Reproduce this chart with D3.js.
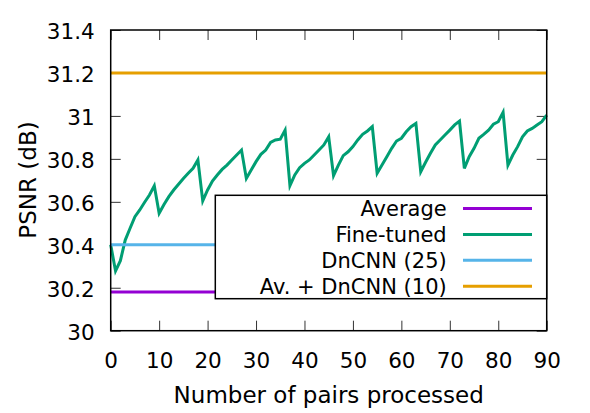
<!DOCTYPE html>
<html lang="en">
<head>
<meta charset="UTF-8">
<title>PSNR vs pairs processed</title>
<script src="https://d3js.org/d3.v7.min.js"></script>
<style>
  body { margin: 0; background: #fff; }
  text { font-family: "DejaVu Sans", sans-serif; fill: #000; }
</style>
</head>
<body>
<svg id="chart"></svg>
<script>
// Werte
var pairs = d3.range(0, 91);
var fineTuned = [
  30.40, 30.278, 30.326, 30.422, 30.477, 30.531, 30.562, 30.598, 30.632, 30.675,
  30.547, 30.588, 30.624, 30.655, 30.682, 30.709, 30.733, 30.756, 30.795, 30.604,
  30.655, 30.697, 30.725, 30.751, 30.771, 30.795, 30.818, 30.841, 30.709, 30.748,
  30.787, 30.821, 30.841, 30.877, 30.888, 30.892, 30.934, 30.675, 30.725, 30.759,
  30.779, 30.795, 30.818, 30.841, 30.865, 30.903, 30.722, 30.771, 30.815, 30.833,
  30.857, 30.888, 30.914, 30.930, 30.950, 30.733, 30.771, 30.810, 30.849, 30.883,
  30.896, 30.926, 30.950, 30.965, 30.740, 30.784, 30.826, 30.865, 30.888, 30.911,
  30.934, 30.958, 30.976, 30.756, 30.810, 30.849, 30.896, 30.914, 30.934, 30.961,
  30.973, 31.017, 30.771, 30.818, 30.857, 30.903, 30.930, 30.942, 30.958, 30.973,
  31.004
];
var average = 30.18;
var dncnn25 = 30.40;
var avDncnn10 = 31.20;

var seriesNames = ["Average", "Fine-tuned", "DnCNN (25)", "Av. + DnCNN (10)"];
var seriesColors = ["#9400d3", "#009e73", "#56b4e9", "#e69f00"];
var xTicks = [0, 10, 20, 30, 40, 50, 60, 70, 80, 90];
var yTicks = [30, 30.2, 30.4, 30.6, 30.8, 31, 31.2, 31.4];

var width = 590, height = 413;
var margin = {left: 110.7, top: 30, right: 43.3, bottom: 82.3};
var innerW = width - margin.left - margin.right;
var innerH = height - margin.top - margin.bottom;

var svg = d3.select("#chart").attr("width", width).attr("height", height);
var g = svg.append("g").attr("transform", "translate(" + margin.left + "," + margin.top + ")");

var x = d3.scaleLinear().domain([0, 90]).range([0, innerW]);
var y = d3.scaleLinear().domain([30, 31.4]).range([innerH, 0]);

// Achsen mit Ticks auf allen vier Seiten (gnuplot-Stil)
var tickLen = 10;
var axB = g.append("g").attr("transform", "translate(0," + innerH + ")")
  .call(d3.axisBottom(x).tickValues(xTicks).tickSizeInner(-tickLen).tickSizeOuter(0).tickPadding(22).tickFormat(d3.format("d")));
var axT = g.append("g")
  .call(d3.axisTop(x).tickValues(xTicks).tickSizeInner(-tickLen).tickSizeOuter(0).tickFormat(""));
var axL = g.append("g")
  .call(d3.axisLeft(y).tickValues(yTicks).tickSizeInner(-tickLen).tickSizeOuter(0).tickPadding(16).tickFormat(function(d) { return d3.format("~g")(d); }));
var axR = g.append("g").attr("transform", "translate(" + innerW + ",0)")
  .call(d3.axisRight(y).tickValues(yTicks).tickSizeInner(-tickLen).tickSizeOuter(0).tickFormat(""));

[axB, axT, axL, axR].forEach(function(a) {
  a.select(".domain").remove();
  a.selectAll(".tick line").attr("stroke", "#333").attr("stroke-width", 1);
  a.selectAll("text").style("font-size", "21.5px").style("font-family", "DejaVu Sans");
});
axL.selectAll("text").attr("dy", "0.4em");

// Linien
var line = d3.line().x(function(d) { return x(d[0]); }).y(function(d) { return y(d[1]); });
var seriesData = [
  pairs.map(function(p) { return [p, average]; }),
  pairs.map(function(p, i) { return [p, fineTuned[i]]; }),
  pairs.map(function(p) { return [p, dncnn25]; }),
  pairs.map(function(p) { return [p, avDncnn10]; })
];
seriesData.forEach(function(s, i) {
  g.append("path").datum(s).attr("d", line)
    .attr("fill", "none").attr("stroke", seriesColors[i])
    .attr("stroke-width", 3).attr("stroke-linejoin", "miter");
});

// Rahmen
g.append("rect").attr("width", innerW).attr("height", innerH)
  .attr("fill", "none").attr("stroke", "#000").attr("stroke-width", 1.5);

// Legende
var legX = 215.3 - margin.left, legY = 195.3 - margin.top;
var legW = innerW - legX, legH = 298.7 - 195.3;
g.append("rect").attr("x", legX).attr("y", legY).attr("width", legW).attr("height", legH)
  .attr("fill", "#fff").attr("stroke", "#000").attr("stroke-width", 1.5);
seriesNames.forEach(function(name, i) {
  var cy = 208.5 - margin.top + i * 25.9;
  g.append("text").attr("x", 446.7 - margin.left).attr("y", cy).attr("dy", "0.36em")
    .attr("text-anchor", "end").style("font-size", "21px").text(name);
  g.append("line").attr("x1", 463 - margin.left).attr("x2", 532 - margin.left)
    .attr("y1", cy).attr("y2", cy).attr("stroke", seriesColors[i]).attr("stroke-width", 3);
});

// Achsentitel
svg.append("text").attr("x", margin.left + innerW / 2).attr("y", 403)
  .attr("text-anchor", "middle").style("font-size", "23px").text("Number of pairs processed");
svg.append("text").attr("transform", "translate(36,180) rotate(-90)")
  .attr("text-anchor", "middle").style("font-size", "23px").text("PSNR (dB)");
</script>
</body>
</html>
